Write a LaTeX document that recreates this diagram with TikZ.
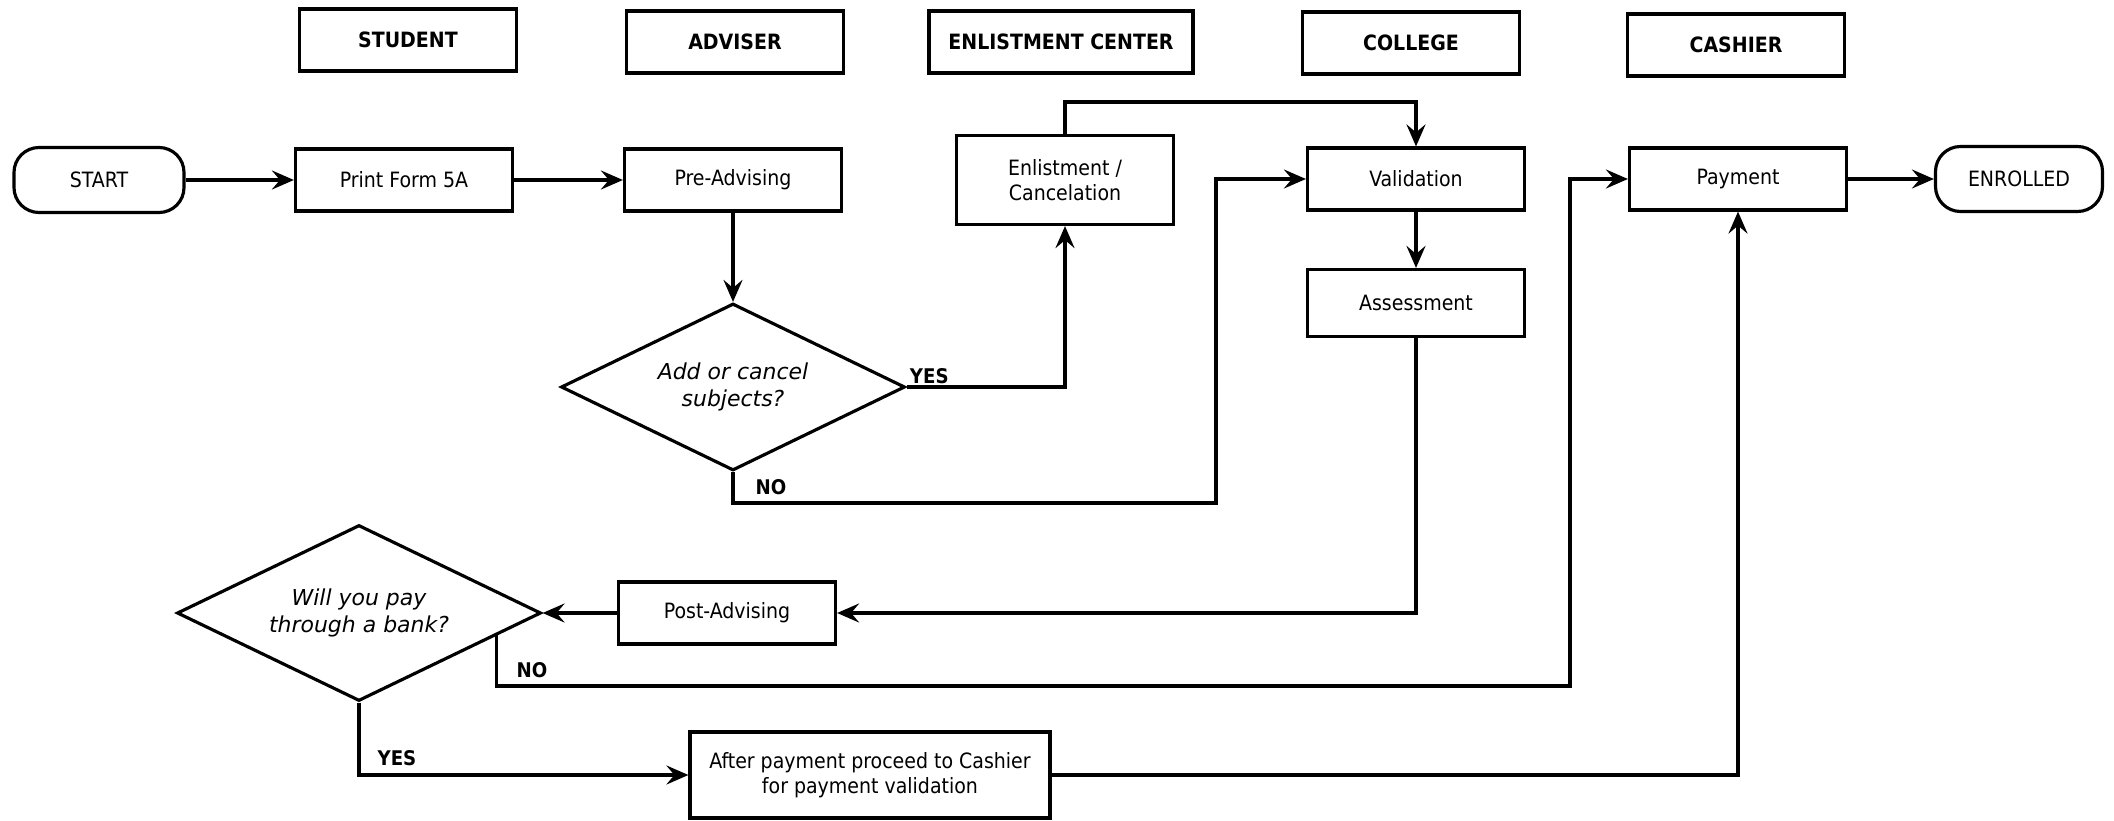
\documentclass[tikz,border=0pt]{standalone}
\usepackage{fontspec}
\setmainfont{DejaVuSansCondensed.ttf}[BoldFont=DejaVuSansCondensed-Bold.ttf, ItalicFont=DejaVuSansCondensed-Oblique.ttf]
\newfontfamily\qfont{DejaVuSans-Oblique.ttf}
\usepackage{tikz}
\usetikzlibrary{calc,positioning,shapes,arrows.meta}

\begin{document}
\begin{tikzpicture}[x=0.2mm, y=-0.2mm, line width=1.8pt, >={Stealth[length=4.4mm,width=3.8mm,inset=1.6mm]},
  lbl/.style={inner sep=1pt, font=\fontsize{11.5}{13}\selectfont\bfseries}]
\tikzstyle{box}=[rectangle, draw, minimum width=43.4mm, minimum height=12.4mm, align=center, font=\fontsize{12}{14.5}\selectfont]
\tikzstyle{head}=[box, font=\fontsize{12}{14}\selectfont\bfseries]
\tikzstyle{term}=[box, rounded corners=5mm, minimum width=34mm, minimum height=13mm]
\tikzstyle{query}=[diamond, draw, aspect=2, inner sep=0pt, align=center, font=\fontsize{12.5}{15}\selectfont\qfont]
\useasboundingbox (0,0) rectangle (2114,821);
% lane headers
\node[head] (hstudent) at (408,40) {STUDENT};
\node[head] (hadviser) at (735,42) {ADVISER};
\node[head, minimum width=52.8mm] (henlist) at (1061,42) {ENLISTMENT CENTER};
\node[head] (hcollege) at (1411,43) {COLLEGE};
\node[head] (hcashier) at (1736,45) {CASHIER};
% main row
\node[term] (start) at (99,180) {START};
\node[box] (print) at (404,180) {Print Form 5A};
\node[box] (preadv) at (733,180) {Pre-Advising};
\node[box, minimum height=17.8mm] (enlist) at (1065,180) {Enlistment /\\Cancelation};
\node[box] (valid) at (1416,179) {Validation};
\node[box] (pay) at (1738,179) {Payment};
\node[term, minimum width=33.4mm] (enrolled) at (2019,179) {ENROLLED};
\node[box, minimum height=13.4mm] (assess) at (1416,303) {Assessment};
% decisions
\node[query, minimum width=68.8mm, minimum height=33.4mm] (addq) at (733,387) {Add or cancel\\subjects?};
\node[box] (postadv) at (727,613) {Post-Advising};
\node[query, minimum width=72.8mm, minimum height=35.2mm] (bankq) at (359,613) {Will you pay\\through a bank?};
\node[box, minimum width=72mm, minimum height=17.2mm] (after) at (870,775) {After payment proceed to Cashier\\for payment validation};
% bends
\coordinate (top) at (1065,102);
\coordinate (c1) at (1216,503);
\coordinate (c2) at (1570,686);
\coordinate (noexit) at ($(bankq.east)!0.25!(bankq.south)$);
% straight arrows
\foreach \i/\j in {start/print,print/preadv,preadv/addq,valid/assess,pay/enrolled,postadv/bankq}{\draw[->] (\i) -- (\j);}
\draw[->] (addq.east) -| (enlist.south);
\draw[->] (enlist.north) -- (top) -| (valid.north);
\draw[->] (addq.south) |- (c1) |- (valid.west);
\draw[->] (assess.south) |- (postadv.east);
\draw[->] (noexit) |- (c2) |- (pay.west);
\draw[->] (bankq.south) |- (after.west);
\draw[->] (after.east) -| (pay.south);
% branch labels
\node[lbl, anchor=south west] (yes1) at (addq.east) {YES};
\node[lbl] (no1) at (771,487) {NO};
\node[lbl] (no2) at (532,670) {NO};
\node[lbl] (yes2) at (397,758) {YES};
\end{tikzpicture}
\end{document}
